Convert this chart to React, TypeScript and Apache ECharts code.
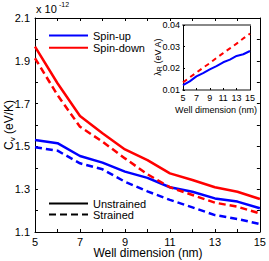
import React, { useEffect, useRef } from "react";
import * as echarts from "echarts";

const wellDim = [5, 6, 7, 8, 9, 10, 11, 12, 13, 14, 15];
const spinUpUnstrained = [1.53, 1.515, 1.455, 1.424, 1.382, 1.353, 1.309, 1.288, 1.257, 1.242, 1.211];
const spinUpStrained = [1.496, 1.48, 1.421, 1.393, 1.335, 1.29, 1.25, 1.215, 1.179, 1.161, 1.137];
const spinDownUnstrained = [1.966, 1.795, 1.642, 1.561, 1.486, 1.436, 1.374, 1.343, 1.309, 1.288, 1.254];
const spinDownStrained = [1.912, 1.74, 1.592, 1.522, 1.444, 1.37, 1.309, 1.273, 1.237, 1.218, 1.187];
const insetBlue = [0.0122, 0.014, 0.0163, 0.0178, 0.0195, 0.021, 0.0228, 0.024, 0.0257, 0.0265, 0.028];
const insetRed = [0.0135, 0.0158, 0.018, 0.0203, 0.0224, 0.0248, 0.027, 0.0292, 0.0314, 0.0338, 0.036];

const FONT = "Liberation Sans";
const pair = (ys: number[]) => wellDim.map((x, i) => [x, ys[i]]);

export default function App() {
  const ref = useRef<HTMLDivElement>(null);
  useEffect(() => {
    if (!ref.current) return;
    const chart = echarts.init(ref.current, undefined, { renderer: "svg" });
    const dash = [7, 4];
    chart.setOption({
      animation: false,
      textStyle: { fontFamily: FONT },
      grid: [
        { left: 35, right: 7, top: 18, bottom: 29 },
        { left: 183, top: 25, width: 67, height: 65 },
      ],
      xAxis: [
        {
          gridIndex: 0, type: "value", min: 5, max: 15, interval: 1,
          axisLine: { lineStyle: { color: "#000", width: 1 } },
          axisTick: { inside: true, length: 3, lineStyle: { color: "#000" } },
          axisLabel: {
            color: "#000", fontSize: 11, fontFamily: FONT, margin: 4,
            formatter: (v: number) => (Math.round(v) % 2 === 1 ? String(Math.round(v)) : ""),
          },
          splitLine: { show: false },
        },
        {
          gridIndex: 0, type: "value", min: 5, max: 15, interval: 1, position: "top",
          axisLine: { lineStyle: { color: "#000", width: 1 } },
          axisTick: { inside: true, length: 3, lineStyle: { color: "#000" } },
          axisLabel: { show: false }, splitLine: { show: false },
        },
        {
          gridIndex: 1, type: "value", min: 5, max: 15, interval: 2,
          axisLine: { lineStyle: { color: "#888", width: 2 } },
          axisTick: { inside: true, length: 2, lineStyle: { color: "#000" } },
          axisLabel: { color: "#000", fontSize: 9, fontFamily: FONT, margin: 3 },
          splitLine: { show: false },
        },
        {
          gridIndex: 1, type: "value", min: 5, max: 15, interval: 2, position: "top",
          axisLine: { lineStyle: { color: "#888", width: 2 } },
          axisTick: { show: false }, axisLabel: { show: false }, splitLine: { show: false },
        },
      ],
      yAxis: [
        {
          gridIndex: 0, type: "value", min: 1.1, max: 2.1, interval: 0.1,
          axisLine: { show: true, lineStyle: { color: "#000", width: 1 } },
          axisTick: { show: true, inside: true, length: 3, lineStyle: { color: "#000" } },
          axisLabel: {
            color: "#000", fontSize: 11, fontFamily: FONT, margin: 5,
            formatter: (v: number) => (Math.round(v * 10) % 2 === 1 ? v.toFixed(1) : ""),
          },
          splitLine: { show: false },
        },
        {
          gridIndex: 0, type: "value", min: 1.1, max: 2.1, interval: 0.1, position: "right",
          axisLine: { show: true, lineStyle: { color: "#000", width: 1 } },
          axisTick: { show: true, inside: true, length: 3, lineStyle: { color: "#000" } },
          axisLabel: { show: false }, splitLine: { show: false },
        },
        {
          gridIndex: 1, type: "value", min: 0.01, max: 0.04, interval: 0.01,
          axisLine: { show: true, lineStyle: { color: "#000", width: 1 } },
          axisTick: { show: true, inside: true, length: 2, lineStyle: { color: "#000" } },
          axisLabel: {
            color: "#000", fontSize: 9, fontFamily: FONT, margin: 3,
            formatter: (v: number) => v.toFixed(2),
          },
          splitLine: { show: false },
        },
        {
          gridIndex: 1, type: "value", min: 0.01, max: 0.04, interval: 0.01, position: "right",
          axisLine: { show: true, lineStyle: { color: "#000", width: 1 } },
          axisTick: { show: false }, axisLabel: { show: false }, splitLine: { show: false },
        },
      ],
      legend: [
        {
          data: ["Spin-up", "Spin-down"], orient: "vertical", left: 43, top: 25,
          itemWidth: 39, itemHeight: 14, itemGap: 1,
          itemStyle: { opacity: 0 },
          textStyle: { fontSize: 11, color: "#000", fontFamily: FONT },
        },
        {
          data: ["Unstrained", "Strained"], orient: "vertical", left: 43, top: 193,
          itemWidth: 39, itemHeight: 13, itemGap: 0,
          itemStyle: { opacity: 0 },
          textStyle: { fontSize: 11, color: "#000", fontFamily: FONT },
        },
      ],
      series: [
        { name: "Spin-up", type: "line", xAxisIndex: 0, yAxisIndex: 0, data: pair(spinUpUnstrained), symbol: "none", lineStyle: { color: "#0000ff", width: 2.5 }, itemStyle: { color: "#0000ff" } },
        { name: "Spin-up-strained", type: "line", xAxisIndex: 0, yAxisIndex: 0, data: pair(spinUpStrained), symbol: "none", lineStyle: { color: "#0000ff", width: 2.5, type: dash }, itemStyle: { color: "#0000ff" } },
        { name: "Spin-down", type: "line", xAxisIndex: 0, yAxisIndex: 0, data: pair(spinDownUnstrained), symbol: "none", lineStyle: { color: "#ff0000", width: 2.5 }, itemStyle: { color: "#ff0000" } },
        { name: "Spin-down-strained", type: "line", xAxisIndex: 0, yAxisIndex: 0, data: pair(spinDownStrained), symbol: "none", lineStyle: { color: "#ff0000", width: 2.5, type: dash }, itemStyle: { color: "#ff0000" } },
        { name: "Unstrained", type: "line", xAxisIndex: 0, yAxisIndex: 0, data: [], symbol: "none", lineStyle: { color: "#000", width: 2.5 }, itemStyle: { color: "#000" } },
        { name: "Strained", type: "line", xAxisIndex: 0, yAxisIndex: 0, data: [], symbol: "none", lineStyle: { color: "#000", width: 2.5, type: dash }, itemStyle: { color: "#000" } },
        { name: "inset-blue", type: "line", xAxisIndex: 2, yAxisIndex: 2, data: pair(insetBlue), symbol: "none", lineStyle: { color: "#0000ff", width: 2 } },
        { name: "inset-red", type: "line", xAxisIndex: 2, yAxisIndex: 2, data: pair(insetRed), symbol: "none", lineStyle: { color: "#ff0000", width: 2, type: [5, 4] } },
      ],
      graphic: [
        { type: "text", x: 36, y: 3, style: { text: "x 10", fontSize: 11, fontFamily: FONT, fill: "#000" } },
        { type: "text", x: 59, y: 1, style: { text: "-12", fontSize: 7, fontFamily: FONT, fill: "#000" } },
        {
          type: "text", x: 2, y: 125, rotation: Math.PI / 2,
          style: {
            text: "C{sub|v} (eV/K)", fontSize: 12, fontFamily: FONT, fill: "#000",
            align: "center", verticalAlign: "top",
            rich: { sub: { fontSize: 8, padding: [6, 0, 0, 0] } },
          },
        },
        {
          type: "text", x: 148, y: 247,
          style: { text: "Well dimension (nm)", fontSize: 12, fontFamily: FONT, fill: "#000", align: "center" },
        },
        {
          type: "text", x: 152, y: 57, rotation: Math.PI / 2,
          style: {
            text: "λ{sub|R} (eV A)", fontSize: 9, fontFamily: FONT, fill: "#000",
            align: "center", verticalAlign: "top",
            rich: { sub: { fontSize: 7, padding: [4, 0, 0, 0] } },
          },
        },
        {
          type: "text", x: 216, y: 105,
          style: { text: "Well dimension (nm)", fontSize: 9, fontFamily: FONT, fill: "#000", align: "center" },
        },
      ],
    });
    return () => chart.dispose();
  }, []);
  return <div ref={ref} style={{ position: "absolute", left: 0, top: 0, width: 269, height: 261 }} />;
}
